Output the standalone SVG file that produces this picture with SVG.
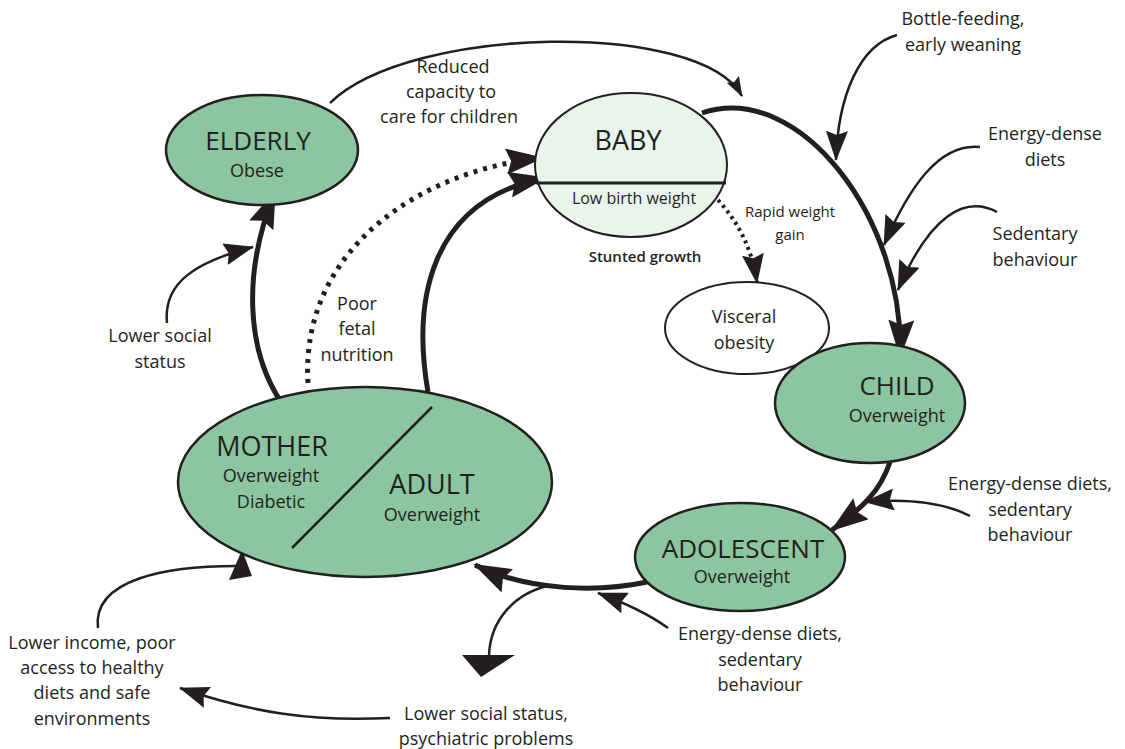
<svg xmlns="http://www.w3.org/2000/svg" width="1125" height="749" viewBox="0 0 1125 749">
<style>
text{font-family:"Open Sans","Noto Sans",sans-serif;fill:#231f20;text-anchor:middle}
.t{font-size:18px}
.h{font-size:26px}
.s{font-size:18px}
.node{fill:#8bc6a1;stroke:#231f20;stroke-width:2.5}
.thick{fill:none;stroke:#231f20;stroke-width:5}
.thin{fill:none;stroke:#231f20;stroke-width:2.5}
.dot{fill:none;stroke:#231f20;stroke-width:5;stroke-dasharray:4 6}
.dot2{fill:none;stroke:#231f20;stroke-width:4;stroke-dasharray:3 4}
</style>
<defs>
<marker id="big" markerUnits="userSpaceOnUse" markerWidth="38" markerHeight="26" refX="36" refY="13" orient="auto" viewBox="0 0 38 26">
<path d="M0,0 L38,13 L0,26 L5,13 Z" fill="#231f20"/>
</marker>
<marker id="med" markerUnits="userSpaceOnUse" markerWidth="30" markerHeight="22" refX="29" refY="11" orient="auto" viewBox="0 0 30 22">
<path d="M0,0 L30,11 L0,22 L4,11 Z" fill="#231f20"/>
</marker>
<marker id="sm" markerUnits="userSpaceOnUse" markerWidth="20" markerHeight="14" refX="19" refY="7" orient="auto" viewBox="0 0 20 14">
<path d="M0,0 L20,7 L0,14 L3,7 Z" fill="#231f20"/>
</marker>
</defs>

<g id="connectors">
<path class="thin" d="M330,103 C410,25 700,20 742,96" marker-end="url(#sm)"/>
<path class="thick" d="M702,113 C800,80 905,220 900,356" marker-end="url(#big)"/>
<path class="thin" d="M897,35 C860,45 838,95 836,160" marker-end="url(#med)"/>
<path class="thin" d="M980,147 C940,143 910,185 884,245" marker-end="url(#med)"/>
<path class="thin" d="M997,212 C965,195 930,215 898,290" marker-end="url(#med)"/>
<path class="thick" d="M890,462 C880,492 862,508 832,530" marker-end="url(#big)"/>
<path class="thin" d="M970,516 C945,503 910,498 865,502" marker-end="url(#med)"/>
<path class="thick" d="M647,582 C600,592 530,592 475,565" marker-end="url(#big)"/>
<path class="thin" d="M552,585 C515,592 490,620 489,656"/>
<polygon points="462,655 515,655 481,677" fill="#231f20"/>
<path class="thin" d="M668,628 C650,615 625,603 598,593" marker-end="url(#med)"/>
<path class="thin" d="M98,628 C92,578 170,566 236,566"/>
<polygon points="242,550 229,580 252,576" fill="#231f20"/>
<path class="thin" d="M390,718 C310,722 250,712 180,688" marker-end="url(#med)"/>
<path class="thick" d="M283,405 C245,350 243,270 275,192" marker-end="url(#big)"/>
<path class="thin" d="M167,323 C163,283 195,262 253,247" marker-end="url(#med)"/>
<path class="dot" d="M308,383 C300,250 420,170 542,158" marker-end="url(#big)"/>
<path class="thick" d="M428,392 C412,300 430,200 545,178" marker-end="url(#big)"/>
<path class="dot2" d="M718,200 C738,222 752,248 757,283" marker-end="url(#med)"/>
</g>

<g id="elderly">
<ellipse class="node" cx="262" cy="150" rx="96" ry="55"/>
<text class="h" x="258" y="150">ELDERLY</text>
<text class="s" x="257" y="177">Obese</text>
</g>

<g id="baby">
<ellipse cx="631" cy="165" rx="96" ry="72" fill="#e9f4ec" stroke="#231f20" stroke-width="2"/>
<line x1="536" y1="183" x2="726" y2="183" stroke="#231f20" stroke-width="3"/>
<text class="h" x="628" y="150" style="font-size:27px">BABY</text>
<text x="634" y="204" style="font-size:16px">Low birth weight</text>
</g>
<text x="645" y="262" style="font-size:15px;font-weight:600">Stunted growth</text>
<text x="790" y="217" style="font-size:15px">Rapid weight</text>
<text x="790" y="240" style="font-size:15px">gain</text>

<g id="visceral">
<ellipse cx="747" cy="328" rx="82" ry="46" fill="#fff" stroke="#231f20" stroke-width="2"/>
<text class="s" x="744" y="323">Visceral</text>
<text class="s" x="744" y="349">obesity</text>
</g>

<g id="child">
<ellipse class="node" cx="870" cy="403" rx="95" ry="60"/>
<text class="h" x="897" y="395">CHILD</text>
<text class="s" x="897" y="422">Overweight</text>
</g>

<g id="adolescent">
<ellipse class="node" cx="740" cy="557" rx="105" ry="54"/>
<text class="h" x="743" y="558">ADOLESCENT</text>
<text class="s" x="742" y="583">Overweight</text>
</g>

<g id="mother-adult">
<ellipse class="node" cx="365" cy="482" rx="187" ry="95"/>
<line x1="432" y1="407" x2="292" y2="548" stroke="#231f20" stroke-width="2.5"/>
<text class="h" x="272" y="456" style="font-size:27px">MOTHER</text>
<text class="s" x="271" y="482">Overweight</text>
<text class="s" x="271" y="508">Diabetic</text>
<text class="h" x="432" y="494" style="font-size:27px">ADULT</text>
<text class="s" x="432" y="521">Overweight</text>
</g>

<g id="labels">
<text class="t" x="453" y="73">Reduced</text>
<text class="t" x="451" y="98">capacity to</text>
<text class="t" x="449" y="123">care for children</text>
<text class="t" x="357" y="310">Poor</text>
<text class="t" x="357" y="335">fetal</text>
<text class="t" x="357" y="361">nutrition</text>
<text class="t" x="160" y="342">Lower social</text>
<text class="t" x="160" y="368">status</text>
<text class="t" x="963" y="25">Bottle-feeding,</text>
<text class="t" x="963" y="51">early weaning</text>
<text class="t" x="1045" y="140">Energy-dense</text>
<text class="t" x="1045" y="166">diets</text>
<text class="t" x="1035" y="240">Sedentary</text>
<text class="t" x="1035" y="266">behaviour</text>
<text class="t" x="1030" y="490">Energy-dense diets,</text>
<text class="t" x="1030" y="516">sedentary</text>
<text class="t" x="1030" y="541">behaviour</text>
<text class="t" x="760" y="640">Energy-dense diets,</text>
<text class="t" x="760" y="666">sedentary</text>
<text class="t" x="760" y="691">behaviour</text>
<text class="t" x="486" y="720">Lower social status,</text>
<text class="t" x="486" y="745">psychiatric problems</text>
<text class="t" x="92" y="649">Lower income, poor</text>
<text class="t" x="92" y="674">access to healthy</text>
<text class="t" x="92" y="699">diets and safe</text>
<text class="t" x="92" y="725">environments</text>
</g>
</svg>
